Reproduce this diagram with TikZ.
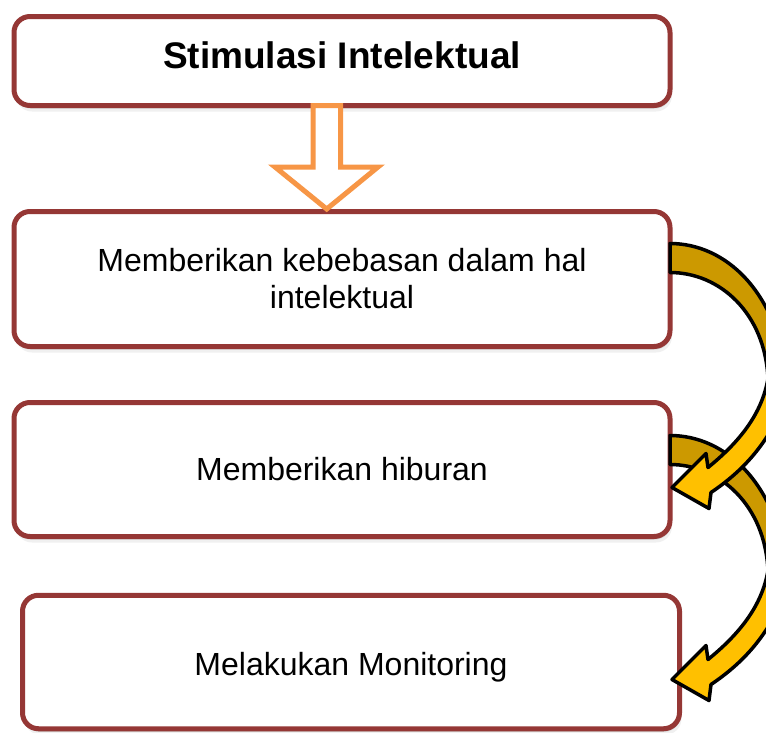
\documentclass[tikz,border=0pt]{standalone}
\usepackage{fontspec}
\setmainfont{Liberation Sans}
\usetikzlibrary{shadows,calc}
\definecolor{boxred}{RGB}{149,55,53}
\definecolor{darkgold}{RGB}{204,153,0}
\definecolor{lightgold}{RGB}{255,192,0}
\definecolor{arroworange}{RGB}{247,150,70}
\tikzset{
  stepbox/.style={draw=boxred, line width=5pt, fill=white, rounded corners=16pt,
    inner sep=0pt, outer sep=0pt, align=center,
    font=\fontsize{32}{37}\selectfont,
    drop shadow={shadow xshift=2pt, shadow yshift=-6pt, opacity=.12},
    drop shadow={shadow xshift=1pt, shadow yshift=-3pt, opacity=.25}},
  titletext/.style={font=\bfseries\fontsize{37}{40}\selectfont, text height=27pt, text depth=13pt},
  arrowline/.style={draw=black, line width=3.5pt, line join=round},
  curvarrow/.pic={
    \path[arrowline, fill=darkgold] (0,0) .. controls (55,0) and (108,47) .. (118,140)
      -- (118,160) -- (98,135) .. controls (95,70) and (50,29) .. (0,29) -- cycle;
    \path[arrowline, fill=lightgold] (98,135) .. controls (92,170) and (70,198) .. (38,224)
      -- (36,210) -- (2,244) -- (39,265) -- (41,249)
      .. controls (72,228) and (100,200) .. (118,150) -- cycle;
  }
}
\begin{document}
\begin{tikzpicture}[x=1pt,y=-1pt]
\useasboundingbox (0,0) rectangle (766,732);
\node[stepbox, titletext, minimum width=656pt, minimum height=89pt] (b1) at (342,61) {Stimulasi Intelektual};
\node[stepbox, minimum width=656pt, minimum height=135pt] (b2) at (342,279) {Memberikan kebebasan dalam hal\\intelektual};
\node[stepbox, minimum width=656pt, minimum height=134pt] (b3) at (342,469.5) {Memberikan hiburan};
\node[stepbox, minimum width=657pt, minimum height=133.5pt, text height=30pt, text depth=2.6pt] (b4) at (351,662) {Melakukan Monitoring};
% hollow down arrow
\begin{scope}[shift={(b1.south)}]
\draw[arroworange, line width=5pt, fill=white, line join=miter]
  (-29,0) -- (-29,61.5) -- (-67,61.5) -- (-15.3,103.5) -- (36,61.5) -- (-1.5,61.5) -- (-1.5,0) -- cycle;
\end{scope}
% curved arrows
\pic at ($(b3.north east)+(0,33)$) {curvarrow};
\pic at ($(b2.north east)+(0,32)$) {curvarrow};
\end{tikzpicture}
\end{document}
